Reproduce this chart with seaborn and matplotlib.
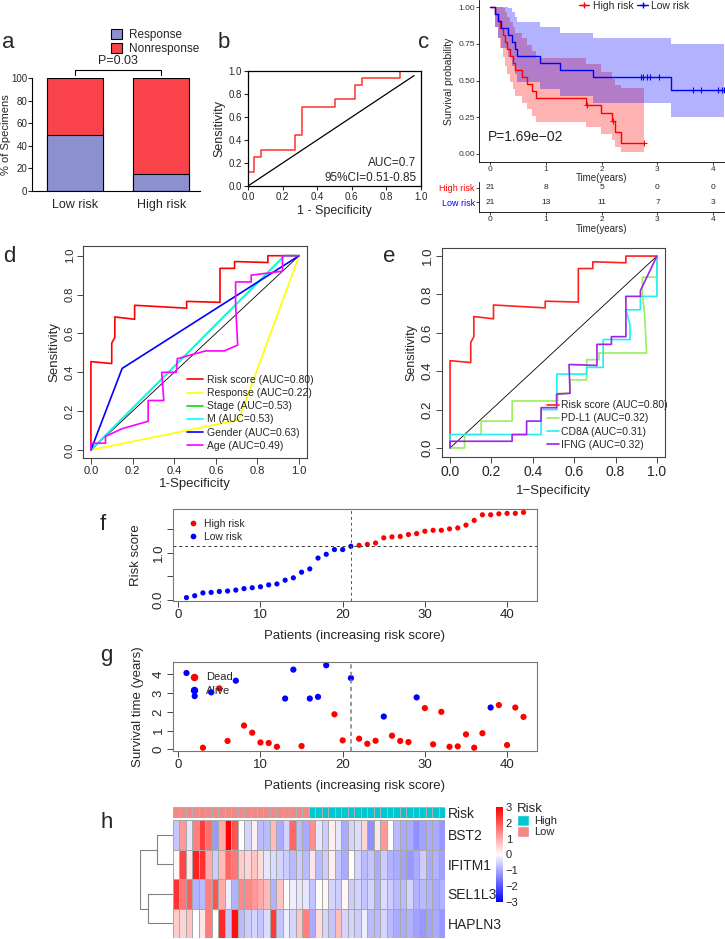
"""
Figure multi-panneaux : réponse, ROC, survie, score de risque, heatmap
"""
import matplotlib
matplotlib.use("Agg")

import numpy as np
import pandas as pd
import matplotlib.pyplot as plt
import seaborn as sns
from matplotlib.colors import LinearSegmentedColormap, ListedColormap
from matplotlib.patches import Patch
from matplotlib.lines import Line2D

# =========================
# DONNÉES
# =========================
# -------- a : réponse par groupe (%)
a_groups = ["Low risk", "High risk"]
a_response = [50, 15]
a_nonresponse = [50, 85]

# -------- b : ROC réponse
b_fpr = [0, 0, 0.035, 0.035, 0.075, 0.075, 0.27, 0.27, 0.31, 0.31, 0.50, 0.50,
         0.62, 0.62, 0.66, 0.66, 0.88, 0.88, 1.0]
b_tpr = [0, 0.125, 0.125, 0.25, 0.25, 0.31, 0.31, 0.44, 0.44, 0.69, 0.69, 0.76,
         0.76, 0.88, 0.88, 0.94, 0.94, 1.0, 1.0]
b_diag = [0, 0.96]

# -------- c : survie (temps en années, 1 = décès)
km_high_time = [0.09, 0.14, 0.18, 0.23, 0.27, 0.30, 0.36, 0.41, 0.44, 0.57, 0.66,
                0.76, 0.82, 1.72, 1.73, 1.98, 2.18, 2.20, 2.24, 2.34, 2.75]
km_high_event = [1, 1, 1, 1, 1, 1, 1, 1, 1, 1, 1, 1, 1, 1, 0, 1, 1, 0, 1, 1, 0]
km_low_time = [0.09, 0.14, 0.20, 0.33, 0.39, 0.44, 0.48, 0.90, 1.25, 1.85, 2.70,
               2.74, 2.82, 2.86, 3.03, 3.25, 3.63, 3.78, 4.08, 4.15, 4.20]
km_low_event = [1, 1, 1, 1, 1, 1, 1, 1, 1, 1, 0, 0, 0, 0, 0, 1, 0, 0, 0, 0, 0]
risk_times = [0, 1, 2, 3, 4]
risk_high = [21, 8, 5, 0, 0]
risk_low = [21, 13, 11, 7, 3]

# -------- d : ROC variables cliniques
d_risk_fpr = [0, 0, 0.10, 0.10, 0.115, 0.115, 0.21, 0.21, 0.46, 0.46, 0.62, 0.62,
              0.69, 0.69, 0.85, 0.85, 1.0]
d_risk_tpr = [0, 0.455, 0.445, 0.55, 0.58, 0.685, 0.673, 0.745, 0.73, 0.765, 0.76,
              0.935, 0.935, 0.97, 0.965, 1.0, 1.0]
d_resp_fpr = [0, 0.71, 1.0]
d_resp_tpr = [0, 0.155, 1.0]
d_stage_fpr = [0, 0.93, 1.0]
d_stage_tpr = [0, 1.0, 1.0]
d_m_fpr = [0, 0.93, 1.0]
d_m_tpr = [0, 1.0, 1.0]
d_gender_fpr = [0, 0.15, 1.0]
d_gender_tpr = [0, 0.42, 1.0]
d_age_fpr = [0, 0, 0.07, 0.07, 0.15, 0.275, 0.275, 0.35, 0.34, 0.41, 0.415, 0.55,
             0.64, 0.705, 0.695, 0.695, 0.77, 0.77, 0.92, 0.92, 1.0]
d_age_tpr = [0, 0.035, 0.035, 0.07, 0.11, 0.148, 0.255, 0.255, 0.40, 0.40, 0.47,
             0.51, 0.51, 0.54, 0.75, 0.865, 0.865, 0.90, 0.92, 1.0, 1.0]
d_labels = ["Risk score (AUC=0.80)", "Response (AUC=0.22)", "Stage (AUC=0.53)",
            "M (AUC=0.53)", "Gender (AUC=0.63)", "Age (AUC=0.49)"]

# -------- e : ROC gènes immunitaires
e_pdl1_fpr = [0, 0.07, 0.07, 0.15, 0.15, 0.30, 0.30, 0.52, 0.52, 0.58, 0.58, 0.66,
              0.66, 0.72, 0.72, 0.95, 0.94, 0.93, 0.93, 1.0, 1.0]
e_pdl1_tpr = [0, 0, 0.07, 0.07, 0.14, 0.14, 0.245, 0.245, 0.285, 0.285, 0.355, 0.355,
              0.46, 0.46, 0.495, 0.495, 0.70, 0.80, 0.89, 0.89, 1.0]
e_cd8a_fpr = [0, 0, 0.44, 0.44, 0.516, 0.516, 0.66, 0.66, 0.74, 0.74, 0.87, 0.87,
              0.85, 0.92, 0.92, 1.0, 1.0]
e_cd8a_tpr = [0, 0.07, 0.07, 0.20, 0.20, 0.385, 0.385, 0.42, 0.42, 0.565, 0.565,
              0.64, 0.72, 0.72, 0.79, 0.79, 1.0]
e_ifng_fpr = [0, 0, 0.30, 0.30, 0.37, 0.37, 0.44, 0.44, 0.515, 0.515, 0.58, 0.575,
              0.71, 0.71, 0.78, 0.78, 0.85, 0.85, 0.92, 0.92, 1.0]
e_ifng_tpr = [0, 0.035, 0.035, 0.07, 0.07, 0.14, 0.14, 0.21, 0.21, 0.28, 0.285,
              0.435, 0.43, 0.54, 0.54, 0.58, 0.58, 0.79, 0.79, 0.82, 1.0]
e_labels = ["Risk score (AUC=0.80)", "PD-L1 (AUC=0.32)", "CD8A (AUC=0.31)",
            "IFNG (AUC=0.32)"]

# -------- f : score de risque trié
f_scores = [0.05, 0.09, 0.15, 0.16, 0.18, 0.19, 0.21, 0.24, 0.26, 0.28, 0.32, 0.34,
            0.42, 0.47, 0.59, 0.66, 0.89, 0.97, 1.07, 1.07, 1.14, 1.16, 1.18, 1.21,
            1.32, 1.34, 1.35, 1.39, 1.41, 1.46, 1.48, 1.48, 1.51, 1.53, 1.59, 1.69,
            1.81, 1.81, 1.83, 1.84, 1.84, 1.86]
f_group = ["Low risk"] * 21 + ["High risk"] * 21
f_cutoff = 1.14
f_split = 21

# -------- g : survie par patient
g_time = [4.07, 2.84, 0.09, 3.04, 3.25, 0.45, 3.66, 1.27, 0.89, 0.37, 0.34, 0.14,
          2.71, 4.25, 0.18, 2.71, 2.80, 4.48, 1.87, 0.48, 3.80, 0.57, 0.30, 0.46,
          1.75, 0.73, 0.45, 0.39, 2.77, 2.20, 0.27, 2.00, 0.14, 0.16, 0.80, 0.09,
          0.86, 2.23, 2.36, 0.23, 2.23, 1.73]
g_status = ["Alive", "Alive", "Dead", "Alive", "Dead", "Dead", "Alive", "Dead",
            "Dead", "Dead", "Dead", "Dead", "Alive", "Alive", "Dead", "Alive",
            "Alive", "Alive", "Dead", "Dead", "Alive", "Dead", "Dead", "Dead",
            "Alive", "Dead", "Dead", "Dead", "Alive", "Dead", "Dead", "Dead",
            "Dead", "Dead", "Dead", "Dead", "Dead", "Alive", "Dead", "Dead",
            "Dead", "Dead"]

# -------- h : heatmap d'expression
h_genes = ["BST2", "IFITM1", "SEL1L3", "HAPLN3"]
h_bst2 = [-0.7, 1.2, -0.3, 1.5, 2.3, 1.7, -1.2, 1.0, 3.0, 2.0, 0.0, -0.5, 0.2, -0.8,
          -0.8, 0.8, -1.0, -0.5, 1.8, -0.8, -1.0, 1.3, -0.3, -0.6, 0.2, -0.3, -1.0,
          -0.5, -0.4, 0.5, -1.3, 0.3, 1.2, 0.0, -0.8, -1.0, -1.0, -1.3, -1.1, -1.0,
          -1.0, -1.2]
h_ifitm1 = [0.1, 2.2, 0.3, 2.6, 2.4, 1.0, -0.6, 0.8, 1.8, 1.6, 0.6, 0.5, 0.7, 0.4,
            -0.3, -0.4, -0.5, -0.6, -0.8, -0.6, -0.8, 0.3, -0.8, -0.6, 0.2, -0.7,
            -1.0, 0.0, -0.5, -0.8, -0.7, -1.0, -0.6, -0.9, -1.0, -1.1, -1.2, -1.0,
            -0.6, -1.0, -0.9, -1.1]
h_sel1l3 = [2.4, 1.6, 1.9, -0.9, -0.8, 1.5, 2.0, 1.0, -0.2, -0.9, 1.4, 1.4, 1.2, 1.0,
            0.8, -0.9, 0.7, 0.0, -0.2, -0.3, -0.3, -0.7, 0.0, 0.1, -0.5, -0.6, 0.1,
            -0.6, -0.5, -0.7, -0.5, -0.9, -0.4, -0.6, -0.8, -0.8, -0.5, -0.9, -0.8,
            -0.9, -1.0, -0.9]
h_hapln3 = [0.6, 0.5, 0.7, 0.0, 0.3, 1.5, 0.0, 2.5, -0.7, 2.8, -0.8, -0.6, -0.5,
            -0.7, -0.4, 2.3, -0.7, -0.2, -0.5, 0.7, 1.5, -1.0, 0.4, -0.5, -0.7, 0.8,
            -0.5, -0.5, -0.6, -0.2, -0.8, -0.8, -0.5, -0.8, -1.0, -1.0, -0.9, -1.1,
            -1.2, -1.1, -1.0, -1.2]
h_risk = ["Low"] * 21 + ["High"] * 21
# hauteurs de fusion : (BST2, IFITM1), (SEL1L3, HAPLN3), racine
h_dend_heights = [0.49, 0.745, 1.0]

# =========================
# STYLE
# =========================
sns.set_theme(style="white")
plt.rcParams["font.family"] = ["Liberation Sans", "DejaVu Sans"]

RED = "#FF0000"
BLUE = "#0000FF"
C_RESP = "#8C90CF"
C_NONRESP = "#F9424A"
C_LOW = "#F08A86"
C_HIGH = "#00C8D0"

W, H = 725, 939
fig = plt.figure(figsize=(W / 100, H / 100), dpi=100)


def px_axes(left, top, right, bottom):
    return fig.add_axes([left / W, 1 - bottom / H, (right - left) / W, (bottom - top) / H])


def fig_text(x, y, s, **kw):
    fig.text(x / W, 1 - y / H, s, **kw)


def r_box(ax, color="#444444"):
    for sp in ax.spines.values():
        sp.set_visible(True)
        sp.set_color(color)
        sp.set_linewidth(0.8)
    ax.tick_params(bottom=True, left=True, direction="out", length=4, width=0.7,
                   color="#444444", pad=2)


def rot_y(ax, ticks, labels, size):
    ax.set_yticks(ticks)
    ax.set_yticklabels(labels, rotation=90, va="center", fontsize=size)


# =========================
# a : BARRES EMPILÉES
# =========================
ax_a = px_axes(32, 78, 200, 191)
df_a = pd.DataFrame({"group": a_groups, "Response": a_response,
                     "Nonresponse": a_nonresponse})
df_a["total"] = df_a["Response"] + df_a["Nonresponse"]
sns.barplot(data=df_a, x="group", y="total", color=C_NONRESP, saturation=1,
            edgecolor="black", linewidth=0.8, width=0.65, ax=ax_a)
sns.barplot(data=df_a, x="group", y="Response", color=C_RESP, saturation=1,
            edgecolor="black", linewidth=0.8, width=0.65, ax=ax_a)
ax_a.set_xlim(-0.5, 1.45)
ax_a.set_ylim(0, 100)
ax_a.set_yticks(range(0, 101, 20))
ax_a.tick_params(axis="y", left=True, direction="out", length=3, width=0.8,
                 labelsize=7, pad=0.5)
ax_a.tick_params(axis="x", length=0, labelsize=9, pad=6)
sns.despine(ax=ax_a)
for sp in ("left", "bottom"):
    ax_a.spines[sp].set_color("black")
    ax_a.spines[sp].set_linewidth(0.8)
ax_a.set_xlabel("")
ax_a.set_ylabel("% of Specimens", fontsize=8, labelpad=0)
ax_a.plot([0, 0, 1, 1], [103, 107, 107, 103], color="black", lw=0.8, clip_on=False)
ax_a.text(0.5, 110, "P=0.03", ha="center", va="bottom", fontsize=9)
fig.legend(handles=[Patch(fc=C_RESP, ec="black", lw=0.8),
                    Patch(fc=C_NONRESP, ec="black", lw=0.8)],
           labels=["Response", "Nonresponse"], loc="upper left",
           bbox_to_anchor=(111 / W, 1 - 29 / H), frameon=False, fontsize=8.5,
           handlelength=0.9, handleheight=0.9, handletextpad=0.6,
           labelspacing=0.15, borderpad=0, borderaxespad=0)
fig_text(2, 42, "a", fontsize=16, va="center")

# =========================
# b : ROC
# =========================
ax_b = px_axes(248, 71, 421, 186)
sns.lineplot(x=b_fpr, y=b_tpr, sort=False, estimator=None, color="#FF3030",
             lw=1.1, ax=ax_b)
sns.lineplot(x=b_diag, y=b_diag, sort=False, estimator=None, color="black",
             lw=0.9, ax=ax_b)
ax_b.set_xlim(0, 1)
ax_b.set_ylim(0, 1)
ticks = np.round(np.arange(0, 1.01, 0.2), 1)
ax_b.set_xticks(ticks, [f"{t:.1f}" for t in ticks])
ax_b.set_yticks(ticks, [f"{t:.1f}" for t in ticks])
for sp in ax_b.spines.values():
    sp.set_color("black")
    sp.set_linewidth(0.9)
ax_b.tick_params(bottom=True, left=True, direction="out", length=3, width=0.8,
                 labelsize=7, pad=1.5)
ax_b.set_xlabel("1 - Specificity", fontsize=9, labelpad=2)
ax_b.set_ylabel("Sensitivity", fontsize=9, labelpad=2)
ax_b.text(0.975, 0.2, "AUC=0.7", transform=ax_b.transAxes, ha="right",
          va="center", fontsize=8.5)
ax_b.text(0.975, 0.07, "95%CI=0.51-0.85", transform=ax_b.transAxes, ha="right",
          va="center", fontsize=8.5)
fig_text(218, 42, "b", fontsize=16, va="center")


# =========================
# c : KAPLAN-MEIER
# =========================
def kaplan_meier(times, events):
    times = np.asarray(times, float)
    events = np.asarray(events, int)
    t, s, lo, hi = [0.0], [1.0], [1.0], [1.0]
    surv, var = 1.0, 0.0
    for ut in np.unique(times[events == 1]):
        n = np.sum(times >= ut)
        d = np.sum((times == ut) & (events == 1))
        surv *= 1 - d / n
        if n > d:
            var += d / (n * (n - d))
        se = np.sqrt(var)
        t.append(ut)
        s.append(surv)
        lo.append(surv * np.exp(-1.96 * se))
        hi.append(min(1.0, surv * np.exp(1.96 * se)))
    t.append(times.max())
    s.append(s[-1])
    lo.append(lo[-1])
    hi.append(hi[-1])
    cens_t = times[events == 0]
    idx = np.searchsorted(t, cens_t, side="right") - 1
    cens_s = np.asarray(s)[idx]
    return np.array(t), np.array(s), np.array(lo), np.array(hi), cens_t, cens_s


ax_c = px_axes(479, 0, 725, 162)
for times, events, col in [(km_high_time, km_high_event, RED),
                           (km_low_time, km_low_event, BLUE)]:
    t, s, lo, hi, ct, cs = kaplan_meier(times, events)
    ax_c.fill_between(t, lo, hi, step="post", color=col, alpha=0.3, lw=0)
    sns.lineplot(x=t, y=s, sort=False, estimator=None, drawstyle="steps-post",
                 color=col, lw=1.0, ax=ax_c)
    sns.scatterplot(x=ct, y=cs, marker="+", s=18, color=col, linewidth=0.8,
                    ax=ax_c, legend=False)
ax_c.set_xlim(-0.197, 4.21)
ax_c.set_ylim(-0.055, 1.05)
ax_c.set_xticks(risk_times)
ax_c.set_yticks([0, 0.25, 0.5, 0.75, 1.0], ["0.00", "0.25", "0.50", "0.75", "1.00"])
sns.despine(ax=ax_c)
for sp in ("left", "bottom"):
    ax_c.spines[sp].set_color("black")
    ax_c.spines[sp].set_linewidth(0.6)
ax_c.tick_params(bottom=True, left=True, direction="out", length=2.5, width=0.6,
                 labelsize=6, pad=0.5, labelcolor="#333333")
ax_c.set_xlabel("Time(years)", fontsize=7, va="center")
ax_c.xaxis.set_label_coords(0.5, -0.1)
ax_c.set_ylabel("Survival probability", fontsize=7.5, labelpad=3)
ax_c.text(-0.03, 0.116, "P=1.69e\u221202", fontsize=10, va="center", ha="left")
fig.legend(handles=[Line2D([], [], color=RED, marker="+", lw=1.0, ms=5),
                    Line2D([], [], color=BLUE, marker="+", lw=1.0, ms=5)],
           labels=["High risk", "Low risk"], loc="center",
           bbox_to_anchor=(634 / W, 1 - 6 / H), ncol=2, frameon=False,
           fontsize=7.5, handlelength=1.0, columnspacing=0.4, handletextpad=0.3,
           borderpad=0, borderaxespad=0)

# -------- tableau des effectifs à risque
ax_t = px_axes(479, 182, 725, 212)
ax_t.patch.set_visible(False)
ax_t.set_xlim(-0.197, 4.21)
ax_t.set_ylim(0.3, 2.4)
for t, nh, nl in zip(risk_times, risk_high, risk_low):
    ax_t.text(t, 2, str(nh), ha="center", va="center", fontsize=6)
    ax_t.text(t, 1, str(nl), ha="center", va="center", fontsize=6)
ax_t.set_xticks(risk_times)
ax_t.set_yticks([2, 1], ["High risk", "Low risk"])
ax_t.get_yticklabels()[0].set_color(RED)
ax_t.get_yticklabels()[1].set_color(BLUE)
sns.despine(ax=ax_t)
for sp in ("left", "bottom"):
    ax_t.spines[sp].set_color("black")
    ax_t.spines[sp].set_linewidth(0.6)
ax_t.tick_params(bottom=True, left=True, direction="out", length=2.5, width=0.6,
                 labelsize=6, pad=0.5)
ax_t.get_yticklabels()[0].set_fontsize(6.5)
ax_t.get_yticklabels()[1].set_fontsize(6.5)
ax_t.set_xlabel("Time(years)", fontsize=7, va="center")
ax_t.xaxis.set_label_coords(0.5, -0.58)
fig_text(418, 43, "c", fontsize=16, va="center")

# =========================
# d : ROC CLINIQUE
# =========================
ax_d = px_axes(83, 246, 307, 458)
d_curves = [(d_risk_fpr, d_risk_tpr, "#FF0000"), (d_resp_fpr, d_resp_tpr, "#FFFF00"),
            (d_stage_fpr, d_stage_tpr, "#00E000"), (d_m_fpr, d_m_tpr, "#00FFFF"),
            (d_gender_fpr, d_gender_tpr, "#0000FF"), (d_age_fpr, d_age_tpr, "#FF00FF")]
sns.lineplot(x=[0, 1], y=[0, 1], sort=False, estimator=None, color="black",
             lw=0.6, ax=ax_d)
for fpr, tpr, col in d_curves:
    sns.lineplot(x=fpr, y=tpr, sort=False, estimator=None, color=col, lw=1.2, ax=ax_d)
ax_d.set_xlim(-0.038, 1.038)
ax_d.set_ylim(-0.041, 1.05)
r_box(ax_d)
ax_d.set_xticks(ticks, [f"{t:.1f}" for t in ticks], fontsize=8)
rot_y(ax_d, ticks, [f"{t:.1f}" for t in ticks], 8)
ax_d.set_xlabel("1-Specificity", fontsize=9.5, labelpad=1)
ax_d.set_ylabel("Sensitivity", fontsize=9.5, labelpad=3)
ax_d.legend(handles=[Line2D([], [], color=c, lw=1.2) for _, _, c in d_curves],
            labels=d_labels, loc="lower left", bbox_to_anchor=(0.43, 0.0),
            frameon=False, fontsize=7.5, handlelength=1.6, handletextpad=0.4,
            labelspacing=0.3, borderpad=0.2)
fig_text(3, 257, "d", fontsize=16, va="center")

# =========================
# e : ROC GÈNES
# =========================
ax_e = px_axes(442, 248, 665, 457)
e_curves = [(d_risk_fpr, d_risk_tpr, "#FF2020"), (e_pdl1_fpr, e_pdl1_tpr, "#9AEE5A"),
            (e_cd8a_fpr, e_cd8a_tpr, "#22F0F0"), (e_ifng_fpr, e_ifng_tpr, "#A020F0")]
sns.lineplot(x=[0, 1], y=[0, 1], sort=False, estimator=None, color="black",
             lw=0.6, ax=ax_e)
for fpr, tpr, col in e_curves:
    sns.lineplot(x=fpr, y=tpr, sort=False, estimator=None, color=col, lw=1.2, ax=ax_e)
ax_e.set_xlim(-0.039, 1.039)
ax_e.set_ylim(-0.047, 1.042)
r_box(ax_e)
ax_e.set_xticks(ticks, [f"{t:.1f}" for t in ticks], fontsize=10)
rot_y(ax_e, ticks, [f"{t:.1f}" for t in ticks], 9.5)
ax_e.set_xlabel("1\u2212Specificity", fontsize=9.5, labelpad=4)
ax_e.set_ylabel("Sensitivity", fontsize=9, labelpad=3)
ax_e.legend(handles=[Line2D([], [], color=c, lw=1.2) for _, _, c in e_curves],
            labels=e_labels, loc="lower left", bbox_to_anchor=(0.44, 0.0),
            frameon=False, fontsize=7.5, handlelength=1.1, handletextpad=0.25,
            labelspacing=0.3, borderpad=0.2)
fig_text(383, 257, "e", fontsize=16, va="center")


# =========================
# f : SCORE DE RISQUE
# =========================
def r_limits(values):
    lo, hi = min(values), max(values)
    pad = 0.04 * (hi - lo)
    return lo - pad, hi + pad


patients = np.arange(1, len(f_scores) + 1)
ax_f = px_axes(173, 509, 537, 601)
df_f = pd.DataFrame({"patient": patients, "score": f_scores, "group": f_group})
sns.scatterplot(data=df_f, x="patient", y="score", hue="group",
                hue_order=["High risk", "Low risk"],
                palette={"High risk": RED, "Low risk": BLUE},
                s=14, edgecolor="none", ax=ax_f)
ax_f.axhline(f_cutoff, color="#333333", lw=0.7, ls=(0, (3, 3)))
ax_f.axvline(f_split, color="#555555", lw=0.7, ls=(0, (3, 3)))
ax_f.set_xlim(*r_limits(patients))
ax_f.set_ylim(*r_limits(f_scores))
r_box(ax_f, "#777777")
ax_f.set_xticks(range(0, 41, 10))
rot_y(ax_f, [0, 0.5, 1.0, 1.5], ["0.0", "", "1.0", ""], 9.5)
ax_f.tick_params(axis="x", labelsize=9.5)
ax_f.set_xlabel("Patients (increasing risk score)", fontsize=9.5, labelpad=6)
ax_f.set_ylabel("Risk score", fontsize=9.5, labelpad=8)
sns.move_legend(ax_f, "upper left", bbox_to_anchor=(0.005, 0.97), title=None,
                frameon=False, fontsize=7.5, handletextpad=0.1, labelspacing=0.25,
                borderpad=0.2, markerscale=1.1)
fig_text(100, 525, "f", fontsize=16, va="center")

# =========================
# g : TEMPS DE SURVIE
# =========================
ax_g = px_axes(173, 662, 537, 751)
df_g = pd.DataFrame({"patient": patients, "time": g_time, "status": g_status})
sns.scatterplot(data=df_g, x="patient", y="time", hue="status",
                hue_order=["Dead", "Alive"], palette={"Dead": RED, "Alive": BLUE},
                s=20, edgecolor="none", ax=ax_g)
ax_g.axvline(f_split, color="#888888", lw=1.2, ls=(0, (2.5, 2)))
ax_g.set_xlim(*r_limits(patients))
ax_g.set_ylim(*r_limits(g_time))
r_box(ax_g, "#777777")
ax_g.set_xticks(range(0, 41, 10))
rot_y(ax_g, range(0, 5), [str(v) for v in range(0, 5)], 9.5)
ax_g.tick_params(axis="x", labelsize=9.5)
ax_g.set_xlabel("Patients (increasing risk score)", fontsize=9.5, labelpad=6)
ax_g.set_ylabel("Survival time (years)", fontsize=9.5, labelpad=6)
sns.move_legend(ax_g, "upper left", bbox_to_anchor=(0.005, 0.97), title=None,
                frameon=False, fontsize=8, handletextpad=0.1, labelspacing=0.3,
                borderpad=0.2, markerscale=1.2)
fig_text(100, 655, "g", fontsize=16, va="center")

# =========================
# h : HEATMAP
# =========================
df_h = pd.DataFrame([h_bst2, h_ifitm1, h_sel1l3, h_hapln3], index=h_genes)
bwr = LinearSegmentedColormap.from_list("bwr_ph", ["#0000FF", "#FFFFFF", "#FF0000"])

ax_ann = px_axes(172.7, 806.7, 445, 818.3)
ax_hm = px_axes(172.7, 820, 445, 938)
ax_den = px_axes(140, 820, 172.7, 938)
cax = px_axes(496, 807, 503, 902)

risk_codes = np.array([[0 if r == "Low" else 1 for r in h_risk]])
sns.heatmap(risk_codes, cmap=ListedColormap([C_LOW, C_HIGH]), vmin=0, vmax=1,
            cbar=False, linewidths=0.5, linecolor="#B0B0B0", xticklabels=False,
            yticklabels=["Risk"], ax=ax_ann)
sns.heatmap(df_h, cmap=bwr, vmin=-3, vmax=3, linewidths=0.5, linecolor="#A8A8A8",
            cbar_ax=cax, xticklabels=False, yticklabels=True, ax=ax_hm)
for ax in (ax_ann, ax_hm):
    ax.yaxis.tick_right()
    ax.tick_params(axis="y", length=0, pad=2, labelsize=10, labelrotation=0)
    ax.set_ylabel("")

cbar = ax_hm.collections[0].colorbar
cbar.set_ticks(range(-3, 4))
cbar.outline.set_visible(False)
cax.tick_params(length=0, labelsize=8, pad=2)

# dendrogramme des lignes (ordre des gènes du heatmap)
h1, h2, root = h_dend_heights
rows = np.arange(len(h_genes)) + 0.5
dcol = "#808080"
for (ra, rb, hh) in [(rows[0], rows[1], h1), (rows[2], rows[3], h2)]:
    ax_den.plot([0, hh, hh, 0], [ra, ra, rb, rb], color=dcol, lw=0.8)
mid1, mid2 = rows[:2].mean(), rows[2:].mean()
ax_den.plot([h1, root, root, h2], [mid1, mid1, mid2, mid2], color=dcol, lw=0.8)
ax_den.set_xlim(root, 0)
ax_den.set_ylim(ax_hm.get_ylim())
ax_den.axis("off")

fig.legend(handles=[Patch(fc=C_HIGH), Patch(fc=C_LOW)], labels=["High", "Low"],
           title="Risk", loc="upper left", bbox_to_anchor=(517 / W, 1 - 803 / H),
           frameon=False, fontsize=8, title_fontsize=9.5, handlelength=1.1,
           handleheight=1.1, labelspacing=0, handletextpad=0.4, borderpad=0,
           borderaxespad=0, alignment="left")
fig_text(100, 822, "h", fontsize=16, va="center")

fig.savefig("out.png", dpi=100)
plt.close(fig)
